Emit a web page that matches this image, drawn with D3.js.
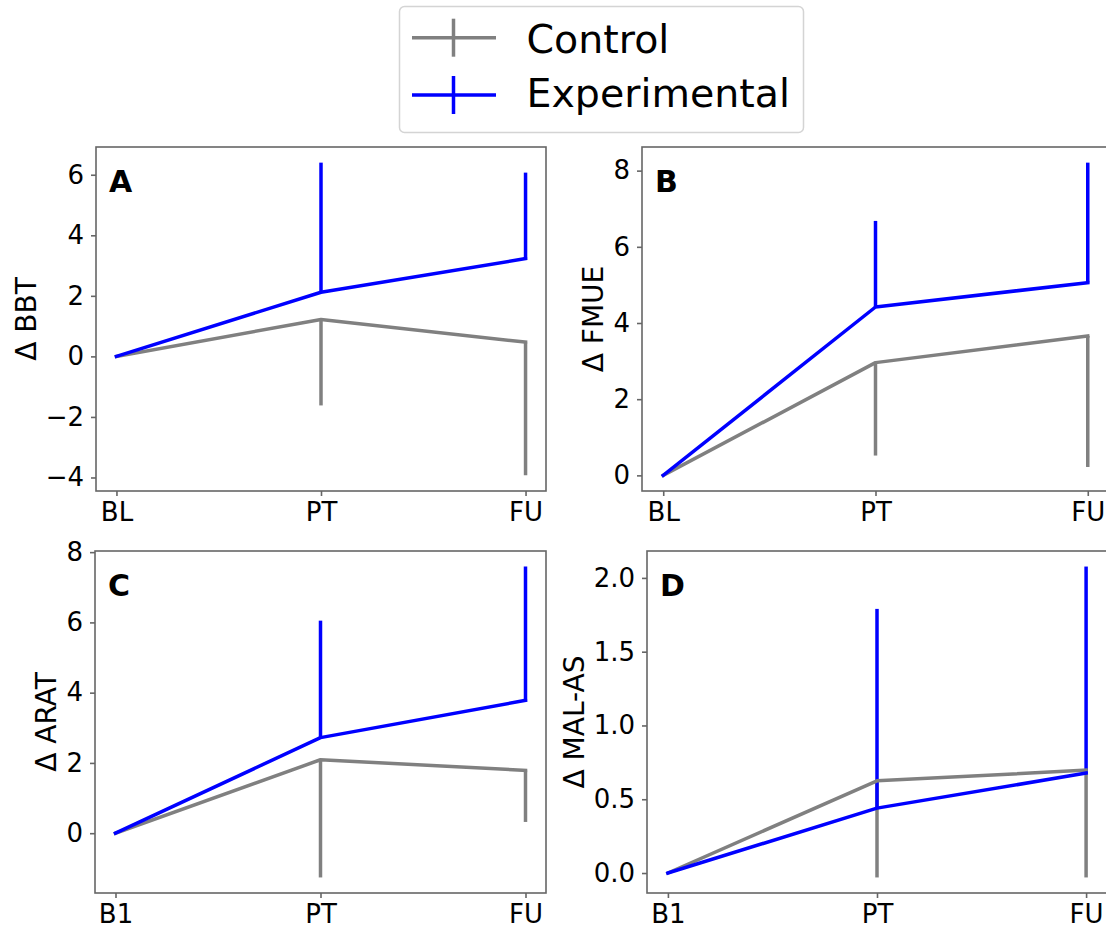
<!DOCTYPE html>
<html>
<head>
<meta charset="utf-8">
<script src="https://cdn.jsdelivr.net/npm/d3@7"></script>
<style>
  body { margin: 0; background: #fff; }
  svg { display: block; }
  text { font-family: "DejaVu Sans", sans-serif; }
</style>
</head>
<body>
<svg id="chart" width="1106" height="930"></svg>
<script>
// Time points on the x axis
const timepointsTop = ["BL", "PT", "FU"];
const timepointsBottom = ["B1", "PT", "FU"];

// Groups
const groups = ["Control", "Experimental"];
const groupColors = ["#808080", "#0000ff"];

// Change scores (mean) and spread (SD) per outcome and group.
// Control spread is drawn downward, experimental spread upward.
const bbtControl = [0, 1.22, 0.47];
const bbtControlSd = [0, 2.84, 4.40];
const bbtExperimental = [0, 2.12, 3.23];
const bbtExperimentalSd = [0, 4.28, 2.84];

const fmueControl = [0, 2.96, 3.66];
const fmueControlSd = [0, 2.44, 3.44];
const fmueExperimental = [0, 4.42, 5.06];
const fmueExperimentalSd = [0, 2.26, 3.15];

const aratControl = [0, 2.09, 1.79];
const aratControlSd = [0, 3.35, 1.47];
const aratExperimental = [0, 2.72, 3.78];
const aratExperimentalSd = [0, 3.33, 3.81];

const malControl = [0, 0.625, 0.697];
const malControlSd = [0, 0.655, 0.727];
const malExperimental = [0, 0.44, 0.677];
const malExperimentalSd = [0, 1.35, 1.40];

// Y tick values
const yTicksBBT = [-4, -2, 0, 2, 4, 6];
const yTicksFMUE = [0, 2, 4, 6, 8];
const yTicksARAT = [0, 2, 4, 6, 8];
const yTicksMAL = [0, 0.5, 1.0, 1.5, 2.0];

const svg = d3.select("#chart");
const frameColor = "#666";
const lineWidth = 3.5;

const panels = [
  { letter: "A", label: "\u0394 BBT", cats: timepointsTop,
    series: [[bbtControl, bbtControlSd, -1], [bbtExperimental, bbtExperimentalSd, 1]],
    ticks: yTicksBBT, fmt: d3.format("d"),
    box: { x0: 96, x1: 546, y0: 147, y1: 491 } },
  { letter: "B", label: "\u0394 FMUE", cats: timepointsTop,
    series: [[fmueControl, fmueControlSd, -1], [fmueExperimental, fmueExperimentalSd, 1]],
    ticks: yTicksFMUE, fmt: d3.format("d"),
    box: { x0: 642, x1: 1109, y0: 147, y1: 491 } },
  { letter: "C", label: "\u0394 ARAT", cats: timepointsBottom,
    series: [[aratControl, aratControlSd, -1], [aratExperimental, aratExperimentalSd, 1]],
    ticks: yTicksARAT, fmt: d3.format("d"),
    box: { x0: 95, x1: 546, y0: 551, y1: 893 } },
  { letter: "D", label: "\u0394 MAL-AS", cats: timepointsBottom,
    series: [[malControl, malControlSd, -1], [malExperimental, malExperimentalSd, 1]],
    ticks: yTicksMAL, fmt: d3.format(".1f"),
    box: { x0: 647, x1: 1107, y0: 551, y1: 893 } }
];

function drawPanel(p) {
  const b = p.box;
  const g = svg.append("g");

  const x = d3.scalePoint().domain(p.cats).range([b.x0, b.x1]).padding(0.1);

  // data limits with a 5% margin on each side
  const vals = [];
  p.series.forEach(([m, sd, dir]) => m.forEach((v, i) => { vals.push(v, v + dir * sd[i]); }));
  const [mn, mx] = d3.extent(vals);
  const pad = (mx - mn) * 0.05;
  const y = d3.scaleLinear().domain([mn - pad, mx + pad]).range([b.y1, b.y0]);

  // clip to the axes area
  const clipId = "clip-" + p.letter;
  g.append("clipPath").attr("id", clipId)
    .append("rect").attr("x", b.x0).attr("y", b.y0)
    .attr("width", b.x1 - b.x0).attr("height", b.y1 - b.y0);
  const plot = g.append("g").attr("clip-path", `url(#${clipId})`);

  // one-sided spread bars
  p.series.forEach(([m, sd, dir], si) => {
    plot.selectAll(null).data(p.cats.map((c, i) => ({ c, m: m[i], e: m[i] + dir * sd[i] }))
      .filter(d => d.e !== d.m))
      .join("line")
      .attr("x1", d => x(d.c)).attr("x2", d => x(d.c))
      .attr("y1", d => y(d.m)).attr("y2", d => y(d.e))
      .attr("stroke", groupColors[si]).attr("stroke-width", lineWidth)
      .attr("stroke-linecap", "butt");
  });

  // mean lines
  const line = d3.line().x((d, i) => x(p.cats[i])).y(d => y(d));
  p.series.forEach(([m], si) => {
    plot.append("path").datum(m).attr("d", line)
      .attr("fill", "none").attr("stroke", groupColors[si])
      .attr("stroke-width", lineWidth).attr("stroke-linejoin", "round")
      .attr("stroke-linecap", "square");
  });

  // axes
  const xAxis = g.append("g").attr("transform", `translate(0,${b.y1})`)
    .call(d3.axisBottom(x).tickSize(5).tickSizeOuter(0).tickPadding(7));
  const yAxis = g.append("g").attr("transform", `translate(${b.x0},0)`)
    .call(d3.axisLeft(y).tickValues(p.ticks).tickFormat(p.fmt)
      .tickSize(5).tickSizeOuter(0).tickPadding(7));
  [xAxis, yAxis].forEach(a => {
    a.select(".domain").remove();
    a.selectAll(".tick line").attr("stroke", frameColor).attr("stroke-width", 1.6);
    a.selectAll(".tick text").attr("fill", "#000").attr("font-size", 26)
      .attr("font-family", "DejaVu Sans, sans-serif");
  });

  // frame
  g.append("rect").attr("x", b.x0).attr("y", b.y0)
    .attr("width", b.x1 - b.x0).attr("height", b.y1 - b.y0)
    .attr("fill", "none").attr("stroke", frameColor).attr("stroke-width", 1.6);

  // panel letter
  g.append("text").attr("x", b.x0 + 13).attr("y", b.y0 + 45)
    .attr("font-size", 30).attr("font-weight", "bold").attr("fill", "#000")
    .text(p.letter);

  // y label placed just outside the tick labels
  let minX = Infinity;
  yAxis.selectAll(".tick text").each(function () {
    const bb = this.getBBox();
    minX = Math.min(minX, b.x0 + bb.x);
  });
  g.append("text")
    .attr("transform", `translate(${minX - 10},${(b.y0 + b.y1) / 2}) rotate(-90)`)
    .attr("text-anchor", "middle").attr("font-size", 28).attr("fill", "#000")
    .text(p.label);
}

panels.forEach(drawPanel);

// legend
const lg = svg.append("g");
lg.append("rect").attr("x", 399.5).attr("y", 6.5).attr("width", 404).attr("height", 126)
  .attr("rx", 5).attr("fill", "#fff").attr("stroke", "#d4d4d4").attr("stroke-width", 1.5);
groups.forEach((name, i) => {
  const cy = 37.7 + i * 57.3;
  lg.append("line").attr("x1", 412).attr("x2", 496).attr("y1", cy).attr("y2", cy)
    .attr("stroke", groupColors[i]).attr("stroke-width", lineWidth);
  lg.append("line").attr("x1", 453.5).attr("x2", 453.5).attr("y1", cy - 19).attr("y2", cy + 19)
    .attr("stroke", groupColors[i]).attr("stroke-width", lineWidth);
  lg.append("text").attr("x", 526.5).attr("y", 52.5 + i * 54.5)
    .attr("font-size", 39.5).attr("fill", "#000").text(name);
});
</script>
</body>
</html>
